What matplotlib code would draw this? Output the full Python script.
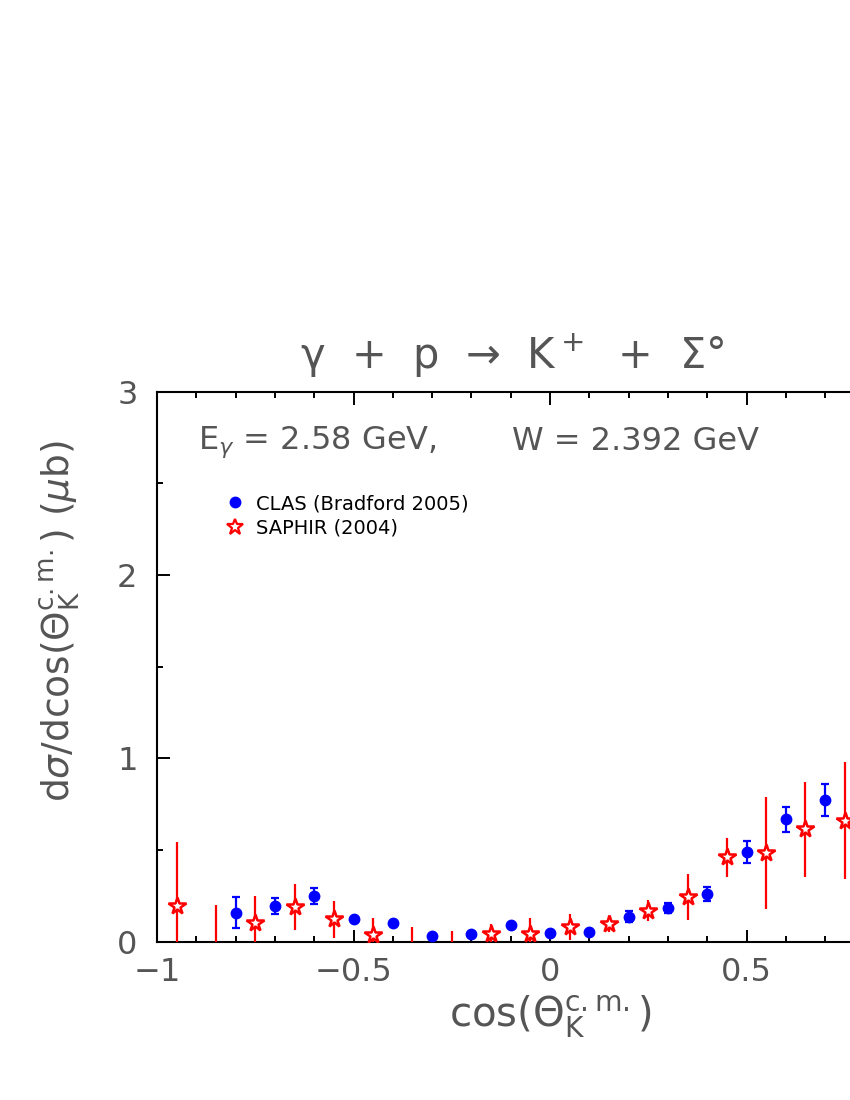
import matplotlib.pyplot as plt
from matplotlib.lines import Line2D
from matplotlib.ticker import MultipleLocator
import numpy as np

# CLAS (Bradford 2005)
clas_x = [-0.8, -0.7, -0.6, -0.5, -0.4, -0.3, -0.2, -0.1, 0.0, 0.1, 0.2, 0.3, 0.4, 0.5, 0.6, 0.7]
clas_y = [0.158, 0.196, 0.249, 0.122, 0.100, 0.033, 0.042, 0.091, 0.049, 0.053, 0.137, 0.182, 0.260, 0.488, 0.668, 0.773]
clas_err = [0.085, 0.045, 0.045, 0.010, 0.010, 0.008, 0.008, 0.010, 0.008, 0.008, 0.032, 0.027, 0.036, 0.060, 0.068, 0.086]

# SAPHIR (2004)
saphir_x = [-0.95, -0.85, -0.75, -0.65, -0.55, -0.45, -0.35, -0.25, -0.15, -0.05, 0.05, 0.15, 0.25, 0.35, 0.45, 0.55, 0.65, 0.75]
saphir_y = [0.196, -0.10, 0.100, 0.190, 0.122, 0.037, -0.07, -0.07, 0.042, 0.042, 0.082, 0.097, 0.170, 0.246, 0.460, 0.486, 0.613, 0.660]
saphir_err = [0.350, 0.300, 0.150, 0.125, 0.100, 0.090, 0.150, 0.130, 0.055, 0.090, 0.070, 0.043, 0.055, 0.125, 0.106, 0.306, 0.260, 0.320]

xtick_vals = [-1, -0.5, 0, 0.5]
xtick_labels = ['\u22121', '\u22120.5', '0', '0.5']
ytick_vals = [0, 1, 2, 3]

txt = '#555555'
plt.rcParams['font.family'] = 'DejaVu Sans'
plt.rcParams['mathtext.fontset'] = 'dejavusans'

fig = plt.figure(figsize=(8.5, 11), dpi=100)
ax = fig.add_axes([157/850, 1 - 941.7/1100, 786/850, 550/1100])

ax.errorbar(saphir_x, saphir_y, yerr=saphir_err, fmt='*', color='red', ms=13,
            mfc='white', mec='red', mew=1.8, elinewidth=1.6, capsize=0, zorder=3)
ax.errorbar(clas_x, clas_y, yerr=clas_err, fmt='o', color='blue', ms=7.5,
            elinewidth=1.6, capsize=3.2, capthick=1.6, zorder=4)

ax.set_xlim(-1, 1)
ax.set_ylim(0, 3)
ax.xaxis.set_minor_locator(MultipleLocator(0.1))
ax.yaxis.set_minor_locator(MultipleLocator(0.5))
ax.set_xticks(xtick_vals)
ax.set_xticklabels(xtick_labels)
ax.set_yticks(ytick_vals)
ax.set_yticklabels([str(v) for v in ytick_vals])
ax.tick_params(which='both', direction='in', top=True, right=True, width=1.4, colors='black',
               labelcolor=txt, labelsize=23)
ax.tick_params(which='major', length=9)
ax.tick_params(which='minor', length=4.5)
ax.tick_params(axis='x', pad=11)
ax.tick_params(axis='y', pad=14)
for s in ax.spines.values():
    s.set_linewidth(1.5)

ax.set_xlabel(r'cos($\mathrm{\Theta_K^{c.m.}}$)', fontsize=29, color=txt, labelpad=4)
ax.set_ylabel(r'd$\sigma$/dcos($\mathrm{\Theta_K^{c.m.}}$) ($\mu$b)', fontsize=27, color=txt)
ax.yaxis.set_label_coords(-(157-82)/786, (941.7-621)/550)

fig.text(512/850, 1 - 355/1100, '\u03b3  +  p  \u2192  K$^+$  +  \u03a3\u00b0', fontsize=30,
         color=txt, ha='center', va='center')
ax.text((198-157)/786, (941.7-442)/550, r'E$_\gamma$ = 2.58 GeV,', fontsize=23, color=txt,
        ha='left', va='center', transform=ax.transAxes)
ax.text((512-157)/786, (941.7-442)/550, 'W = 2.392 GeV', fontsize=23, color=txt,
        ha='left', va='center', transform=ax.transAxes)

handles = [Line2D([], [], ls='none', marker='o', color='blue', ms=7.5),
           Line2D([], [], ls='none', marker='*', ms=12, mfc='white', mec='red', mew=1.6)]
ax.legend(handles, ['CLAS (Bradford 2005)', 'SAPHIR (2004)'], loc='upper left',
          bbox_to_anchor=((225-157)/786, (941.7-494)/550), frameon=False, fontsize=14,
          handlelength=1.0, handletextpad=0.6, labelspacing=0.3, borderaxespad=0,
          borderpad=0, labelcolor='black')

fig.savefig('out.png', dpi=100)
